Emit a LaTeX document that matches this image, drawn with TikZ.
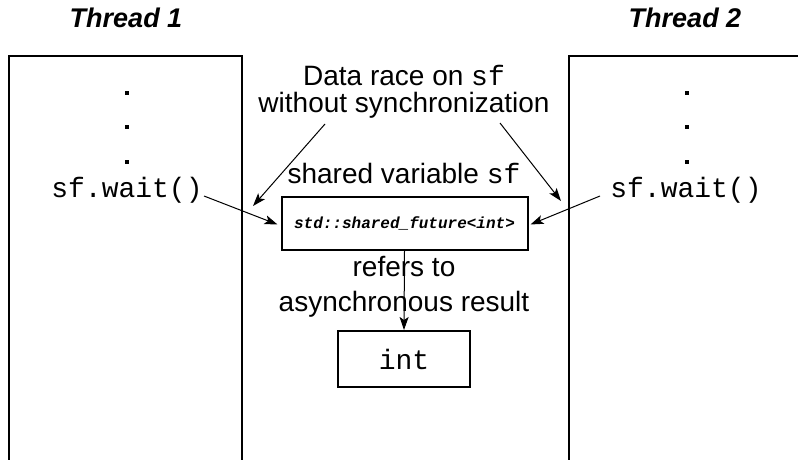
\documentclass[tikz,border=0pt]{standalone}
\usepackage{fontspec}
\setmainfont{Liberation Sans}
\setmonofont{Liberation Mono}
\usetikzlibrary{arrows.meta}
\begin{document}
\begin{tikzpicture}[x=1pt,y=-1pt,
  lbl/.style={anchor=base,inner sep=0pt,font=\fontsize{28}{32}\selectfont},
  ttl/.style={anchor=base,inner sep=0pt,font=\fontsize{27}{31}\selectfont\bfseries\itshape},
  code/.style={anchor=base,inner sep=0pt,font=\fontsize{28}{32}\selectfont\ttfamily},
  thread/.style={draw,line width=2pt},
  databox/.style={draw,line width=2pt,inner sep=0pt},
  dotmark/.style={fill,inner sep=0pt,minimum size=4.5pt},
  conn/.style={line width=1pt,-{Stealth[length=13pt,width=9pt,inset=3pt]}}]
\useasboundingbox (0,0) rectangle (798,460);
\clip (0,0) rectangle (798,460);
% thread boxes
\draw[thread] (9,56) rectangle (242,480);
\draw[thread] (569,56) rectangle (820,480);
\node[ttl] (t1) at (126,28) {Thread 1};
\node[ttl] (t2) at (685,28) {Thread 2};
% dots
\node[dotmark] (d1a) at (127,93) {};
\node[dotmark] (d1b) at (127,127) {};
\node[dotmark] (d1c) at (127,162) {};
\node[dotmark] (d2a) at (687,93) {};
\node[dotmark] (d2b) at (687,127) {};
\node[dotmark] (d2c) at (687,162) {};
% waits
\node[code] (w1) at (127,197) {sf.wait()};
\node[code] (w2) at (686,197) {sf.wait()};
% labels
\node[lbl] (race1) at (404,85) {Data race on \texttt{sf}};
\node[lbl] (race2) at (404,112) {without synchronization};
\node[lbl] (shv) at (404,183) {shared variable \texttt{sf}};
\node[lbl] (ref1) at (404,276) {refers to};
\node[lbl] (ref2) at (404,311) {asynchronous result};
% boxes
\node[databox,minimum width=246pt,minimum height=53pt,
  font=\fontsize{16}{18}\selectfont\ttfamily\bfseries\itshape] (sfbox) at (404.5,223.5) {std::shared\_future<int>};
\node[databox,minimum width=132pt,minimum height=56pt,
  font=\fontsize{28}{32}\selectfont\ttfamily] (intbox) at (404,359) {int};
% connector anchors
\coordinate (w1e) at (204,196);
\coordinate (w2w) at (600,196);
\coordinate (r1) at (325,124);
\coordinate (r2) at (500,123);
\coordinate (h1) at (253,206);
\coordinate (h2) at (561,201);
% connectors
\draw[conn] (w1e) -- ([xshift=-3pt,yshift=-1pt]sfbox.west);
\draw[conn] (w2w) -- ([xshift=2pt,yshift=-1pt]sfbox.east);
\draw[conn] (r1) -- (h1);
\draw[conn] (r2) -- (h2);
\draw[conn] (sfbox.south) -- (intbox.north);
\end{tikzpicture}
\end{document}
